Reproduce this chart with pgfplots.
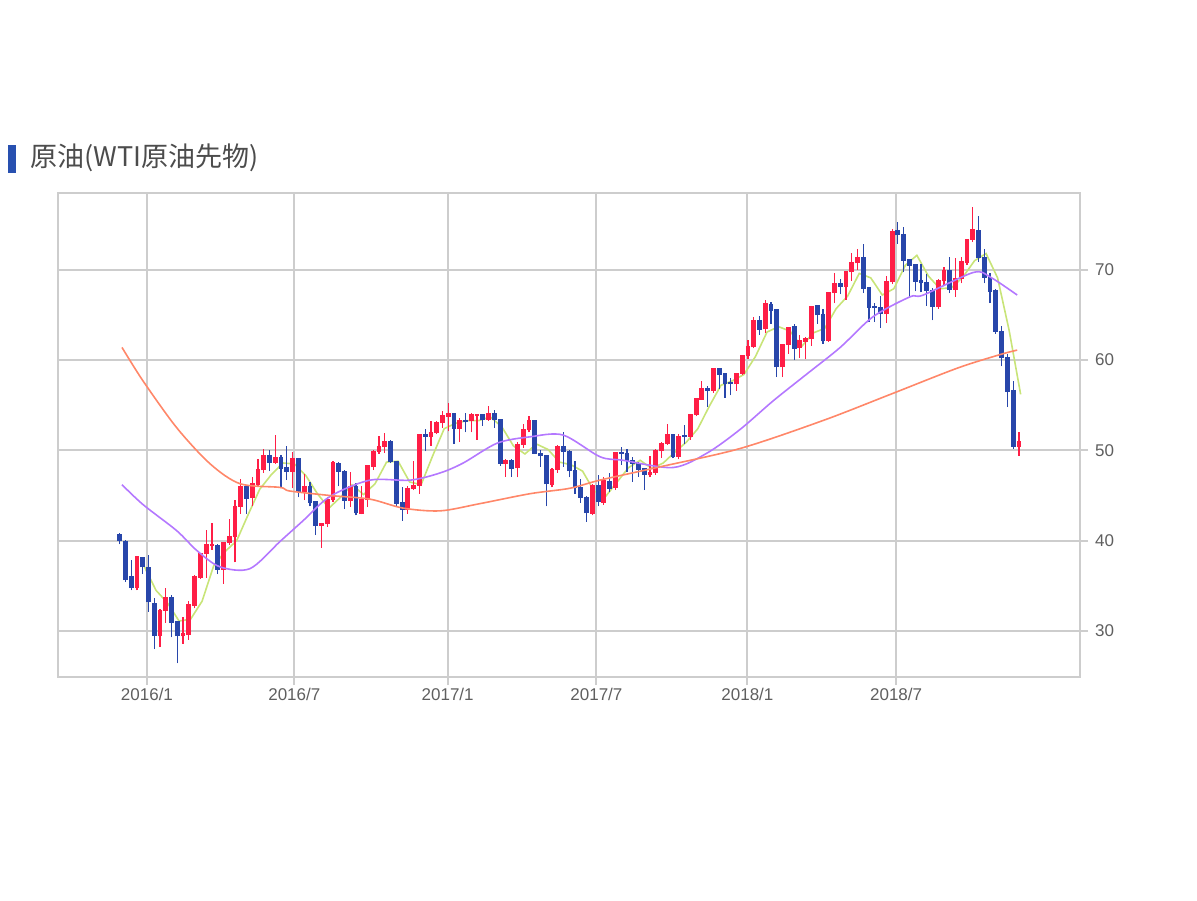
\documentclass[border=0pt]{standalone}
\usepackage{pgfplots}
\pgfplotsset{compat=1.18}
\usepackage{pgfplotstable}
\usepackage{fontspec}
\setmainfont{Liberation Sans}
\newfontfamily\jp{Noto Sans CJK JP}
\definecolor{upred}{RGB}{255,30,70}
\definecolor{dnblue}{RGB}{40,70,170}
\definecolor{mapurple}{RGB}{180,120,255}
\definecolor{maorange}{RGB}{255,135,105}
\definecolor{mayellow}{RGB}{200,228,120}
\definecolor{gridc}{RGB}{205,205,205}
\definecolor{tickc}{RGB}{95,95,95}
\definecolor{titlebar}{RGB}{40,80,176}

\pgfplotstableread{
w o h l c
-4 40.6 40.9 39.6 39.97
-3 39.8 40.1 35.4 35.62
-2 35.9 37.9 34.5 34.73
-1 34.8 38.3 34.5 38.10
0 38.0 38.1 36.3 37.04
1 36.9 38.4 32.1 33.16
2 33.0 33.6 28.0 29.42
3 29.4 32.4 28.2 32.19
4 32.2 34.8 30.9 33.62
5 33.6 34.0 29.3 30.89
6 30.9 31.0 26.4 29.44
7 29.4 31.5 28.6 29.64
8 29.6 33.3 29.0 32.78
9 32.8 36.2 32.5 35.92
10 35.9 38.6 35.8 38.50
11 38.5 41.2 35.9 39.44
12 39.4 41.9 39.0 39.46
13 39.4 39.6 36.3 36.79
14 36.8 39.9 35.2 39.72
15 39.7 42.4 39.5 40.36
16 40.4 44.5 37.6 43.73
17 43.7 46.8 43.0 45.92
18 45.9 46.0 43.0 44.66
19 44.7 47.0 43.8 46.21
20 46.2 49.0 46.0 47.75
21 47.8 50.2 47.5 49.33
22 49.3 50.0 47.7 48.62
23 48.6 51.7 48.5 49.07
24 49.1 49.5 45.8 47.98
25 48.0 50.5 46.7 47.64
26 47.6 49.8 45.8 48.99
27 49.0 49.1 44.8 45.41
28 45.4 47.4 44.5 45.95
29 45.9 46.5 43.8 44.19
30 44.2 44.4 40.6 41.60
31 41.6 42.0 39.2 41.80
32 41.8 44.8 41.5 44.49
33 44.5 48.8 44.3 48.52
34 48.5 48.7 46.0 47.64
35 47.6 47.8 43.5 44.44
36 44.4 47.6 43.7 45.88
37 45.9 46.4 42.8 43.03
38 43.0 46.0 42.9 44.48
39 44.5 48.3 43.7 48.24
40 48.2 50.0 47.8 49.81
41 49.8 51.6 49.6 50.35
42 50.4 51.9 49.7 50.85
43 50.9 51.1 48.6 48.70
44 48.7 48.8 43.8 44.07
45 44.1 45.9 42.2 43.41
46 43.4 46.0 43.0 45.69
47 45.7 48.8 45.6 46.06
48 46.1 51.8 45.2 51.68
49 51.7 52.4 49.9 51.50
50 51.5 53.2 50.5 51.90
51 51.9 53.3 51.8 53.02
52 53.0 54.4 52.5 53.72
53 53.7 55.2 52.1 53.99
54 54.0 54.1 50.7 52.37
55 52.4 53.6 50.9 53.22
56 53.2 54.1 52.0 53.17
57 53.2 54.1 52.0 53.83
58 53.8 54.0 51.2 53.86
59 53.9 54.0 52.7 53.40
60 53.4 54.9 53.3 53.99
61 54.0 54.5 52.5 53.33
62 53.3 53.4 48.3 48.49
63 48.5 49.0 47.1 48.78
64 48.8 49.0 47.1 47.97
65 48.0 50.9 47.0 50.60
66 50.6 52.9 50.3 52.24
67 52.2 53.8 52.0 53.18
68 53.2 53.3 49.6 49.62
69 49.6 50.0 48.2 49.33
70 49.3 49.5 43.8 46.22
71 46.2 48.0 45.9 47.84
72 47.8 50.6 47.5 50.33
73 50.3 52.0 48.2 49.80
74 49.8 50.0 47.0 47.66
75 47.7 48.8 45.2 45.83
76 45.8 46.8 44.2 44.74
77 44.7 44.9 42.1 43.01
78 43.0 46.3 42.8 46.04
79 46.0 47.3 43.8 44.23
80 44.2 47.0 44.0 46.54
81 46.5 47.5 45.4 45.77
82 45.8 49.8 45.6 49.71
83 49.7 50.4 48.4 49.58
84 49.6 50.2 47.6 48.82
85 48.8 49.3 46.5 48.51
86 48.5 48.7 47.1 47.87
87 47.9 48.0 45.6 47.29
88 47.3 49.4 47.0 47.48
89 47.5 50.2 47.3 49.89
90 49.9 50.9 49.2 50.66
91 50.7 52.9 50.6 51.67
92 51.7 51.8 49.1 49.29
93 49.3 51.8 49.0 51.45
94 51.5 52.8 50.7 51.47
95 51.5 54.0 51.2 53.90
96 53.9 55.7 53.8 55.64
97 55.6 57.7 55.6 56.74
98 56.7 57.1 54.8 56.55
99 56.6 59.0 56.4 58.95
100 59.0 59.0 56.8 58.36
101 58.4 58.5 55.8 57.36
102 57.4 58.0 56.1 57.30
103 57.3 58.5 56.6 58.47
104 58.5 60.5 58.4 60.42
105 60.4 62.2 60.1 61.44
106 61.4 64.8 61.3 64.30
107 64.3 64.9 62.8 63.37
108 63.4 66.7 63.0 66.14
109 66.1 66.4 64.0 65.45
110 65.5 65.6 58.1 59.20
111 59.2 61.8 58.1 61.68
112 61.7 63.7 60.7 63.55
113 63.6 64.0 60.0 61.25
114 61.3 62.8 60.2 62.04
115 62.0 62.5 60.1 62.34
116 62.3 66.0 61.6 65.88
117 65.9 66.0 64.0 64.94
118 64.9 65.6 61.8 62.06
119 62.1 67.5 62.0 67.39
120 67.4 69.6 66.3 68.38
121 68.4 69.0 67.3 68.10
122 68.1 69.8 66.7 69.72
123 69.7 71.9 68.8 70.70
124 70.7 72.3 70.0 71.28
125 71.3 72.9 67.4 67.88
126 67.9 68.0 64.2 65.81
127 65.8 66.3 64.2 65.74
128 65.7 67.1 63.6 65.06
129 65.1 69.3 64.1 68.58
130 68.6 74.5 68.4 74.15
131 74.2 75.3 72.9 73.80
132 73.8 74.7 69.7 71.01
133 71.0 71.2 67.0 70.46
134 70.5 70.6 67.6 68.69
135 68.7 70.6 67.5 68.49
136 68.5 69.5 66.0 67.63
137 67.6 68.0 64.4 65.91
138 65.9 69.0 65.7 68.72
139 68.7 70.3 68.2 69.80
140 69.8 71.4 67.4 67.75
141 67.8 71.3 67.0 68.99
142 69.0 71.4 68.5 70.78
143 70.8 73.3 70.5 73.25
144 73.3 76.9 73.1 74.34
145 74.3 75.9 70.9 71.34
146 71.3 72.3 68.5 69.12
147 69.1 69.6 66.3 67.59
148 67.6 67.9 62.9 63.14
149 63.1 63.8 59.3 60.19
150 60.2 60.7 54.8 56.46
151 56.5 57.7 50.2 50.42
152 50.4 52.0 49.4 50.93
}\candles

\pgfplotsset{candle/.style 2 args={draw=none, mark=none, forget plot,
  error bars/.cd, y dir=plus, y explicit, error mark=none,
  error bar style={line width=#1, draw=#2}}}

\begin{document}
\begin{tikzpicture}
\begin{axis}[
  scale only axis, width=511pt, height=242pt,
  at={(0,0)}, anchor=south west,
  xmin=-15.0, xmax=162.3, ymin=24.9, ymax=78.5,
  xtick={0.43,26,52.6,78.4,104.6,130.4},
  xticklabels={2016/1,2016/7,2017/1,2017/7,2018/1,2018/7},
  ytick={30,40,50,60,70},
  yticklabel pos=right, ytick pos=right, xtick pos=lower,
  grid=major, grid style={draw=gridc, line width=1pt},
  axis line style={draw=gridc, line width=1pt},
  tick style={draw=gridc, line width=1pt},
  tick align=outside, major tick length=4pt,
  ticklabel style={font=\fontsize{8.5}{9}\selectfont, text=tickc},
  xticklabel style={yshift=2pt},
  /pgf/number format/assume math mode=true,
]
% short moving average
\addplot[mayellow, line width=0.8pt] coordinates {
(0,37.1) (2,34.5) (4,33.1) (6,31.1) (8,31.3) (10,33.3) (12,37.2) (14,38.8) (16,40.0) (18,42.9) (20,45.7) (22,47.3) (24,48.6) (26,48.5) (28,47.2) (30,45.2) (32,43.6) (34,44.8) (36,46.2) (38,45.1) (40,46.3) (42,48.7) (44,48.8) (46,46.5) (48,46.2) (50,49.4) (52,52.4) (54,53.0) (56,53.3) (58,53.3) (60,53.7) (62,52.6) (64,50.5) (66,49.6) (68,50.7) (70,50.1) (72,48.7) (74,48.4) (76,47.7) (78,45.5) (80,44.9) (82,46.5) (84,48.1) (86,48.9) (88,48.0) (90,48.6) (92,49.8) (94,50.9) (96,52.4) (98,54.9) (100,57.2) (102,57.7) (104,58.4) (106,60.4) (108,63.1) (110,63.7) (112,63.2) (114,61.5) (116,63.0) (118,63.5) (120,65.7) (122,67.1) (124,69.6) (126,69.1) (128,67.2) (130,67.9) (132,70.5) (134,71.6) (136,69.3) (138,67.9) (140,68.0) (142,69.2) (144,71.0) (146,71.8) (148,69.1) (150,63.3) (152,56.2)
};
% up candles: wicks and bodies
\addplot[candle={0.6pt}{upred}]
  table[x expr=\thisrow{w}-0.3, y expr={\thisrow{c}<\thisrow{o} ? nan : \thisrow{l}}, y error expr=\thisrow{h}-\thisrow{l}] {\candles};
\addplot[candle={2.4pt}{upred}]
  table[x expr=\thisrow{w}-0.3, y expr={\thisrow{c}<\thisrow{o} ? nan : \thisrow{o}}, y error expr=\thisrow{c}-\thisrow{o}+0.15] {\candles};
% down candles
\addplot[candle={0.6pt}{dnblue}]
  table[x expr=\thisrow{w}-0.3, y expr={\thisrow{c}<\thisrow{o} ? \thisrow{l} : nan}, y error expr=\thisrow{h}-\thisrow{l}] {\candles};
\addplot[candle={2.4pt}{dnblue}]
  table[x expr=\thisrow{w}-0.3, y expr={\thisrow{c}<\thisrow{o} ? \thisrow{c} : nan}, y error expr=\thisrow{o}-\thisrow{c}+0.15] {\candles};
% medium moving average
\addplot[mapurple, line width=0.8pt, smooth] coordinates {
(-3.9,46.2) (-0.26,44.0) (5.6,41.1) (9.1,38.9) (13.1,37.1) (18.3,36.9) (23.5,39.9) (27.5,42.2) (32.2,44.9) (39.1,46.7) (46.1,46.7) (51.3,47.5) (55.3,48.6) (61.2,50.8) (66.9,51.5) (72.6,51.7) (79.0,49.3) (83.0,48.9) (91.7,48.1) (97.6,49.7) (103.3,52.3) (109.1,55.5) (115.0,58.5) (120.7,61.4) (126.4,64.8) (132.8,67.0) (135.1,67.2) (143.8,69.7) (146.7,69.2) (151.4,67.2)
};
% long moving average
\addplot[maorange, line width=0.8pt, smooth] coordinates {
(-3.9,61.4) (-0.26,57.7) (5.6,52.5) (11.4,48.5) (16.6,46.3) (23.5,45.9) (25.2,45.5) (32.2,45.0) (39.1,44.6) (44.9,43.6) (51.3,43.3) (58.2,44.1) (66.9,45.2) (73.8,45.8) (79.0,46.7) (88.9,48.1) (103.3,50.2) (117.7,53.3) (129.4,56.2) (141.0,59.1) (148.4,60.6) (151.4,61.1)
};
\end{axis}
\fill[titlebar] (-25pt,252pt) rectangle (-21pt,266pt);
\node[anchor=west, inner sep=0pt, text=black!70] at (-14pt,259.5pt) {\jp\fontsize{13.5}{14}\selectfont 原油(WTI原油先物)};
\pgfresetboundingbox
\path[use as bounding box] (-29pt,-111.5pt) rectangle (569.5pt,338.5pt);
\end{tikzpicture}
\end{document}
